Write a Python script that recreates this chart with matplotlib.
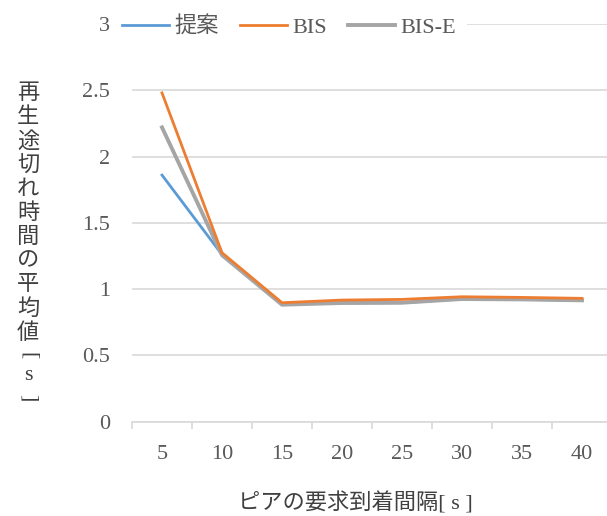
import matplotlib
matplotlib.use("Agg")
import matplotlib.pyplot as plt

# arrival interval of peer requests [s]
intervals = ["5", "10", "15", "20", "25", "30", "35", "40"]
proposed = [1.86, 1.26, 0.885, 0.895, 0.897, 0.925, 0.922, 0.915]
bis = [2.48, 1.274, 0.897, 0.917, 0.922, 0.942, 0.937, 0.930]
bis_e = [2.22, 1.256, 0.882, 0.895, 0.897, 0.925, 0.922, 0.915]

yticks = [0, 0.5, 1, 1.5, 2, 2.5, 3]
ylabel_chars = list("再生途切れ時間の平均値") + ["[", "s", "]"]
xlabel = "ピアの要求到着間隔[ s ]"

plt.rcParams['font.family'] = ['Liberation Serif', 'Noto Sans CJK JP']
W, H = 607, 516
fig = plt.figure(figsize=(W / 100, H / 100), dpi=100)
ax = fig.add_axes([132 / W, 1 - 421.6 / H, 480 / W, (421.6 - 24) / H])

x = list(range(1, len(intervals) + 1))
ax.plot(x, proposed, color='#5B9BD5', lw=2.0, label='提案', zorder=3,
        solid_joinstyle='round')
ax.plot(x, bis_e, color='#A5A5A5', lw=2.8, label='BIS-E', zorder=4,
        solid_joinstyle='round')
ax.plot(x, bis, color='#ED7D31', lw=2.0, label='BIS', zorder=5,
        solid_joinstyle='round')

ax.set_xlim(0.5, len(intervals) + 0.5)
ax.set_ylim(0, 3)
ax.set_yticks(yticks)
ax.set_yticklabels([f"{v:g}" for v in yticks])
ax.set_xticks(x)
ax.set_xticklabels(intervals)
ax.set_xticks([i + 0.5 for i in range(0, len(intervals) + 1)], minor=True)

ax.grid(axis='y', color='#D9D9D9', lw=1.2, zorder=0)
for s in ['top', 'right', 'left']:
    ax.spines[s].set_visible(False)
ax.spines['bottom'].set_color('#D9D9D9')
ax.spines['bottom'].set_linewidth(1.2)
ax.tick_params(axis='y', length=0, pad=16, labelsize=16, labelcolor='#595959')
ax.tick_params(axis='x', which='major', length=0, pad=17, labelsize=16,
               labelcolor='#595959')
ax.tick_params(axis='x', which='minor', length=5, width=1.2, color='#D9D9D9')

handles, labels = ax.get_legend_handles_labels()
order = [labels.index(n) for n in ['提案', 'BIS', 'BIS-E']]
fig.legend([handles[i] for i in order], [labels[i] for i in order],
           loc='center', bbox_to_anchor=(289 / W, 1 - 27 / H), ncol=3,
           frameon=True, facecolor='white', edgecolor='none', framealpha=1,
           fontsize=16, handlelength=2.1, handletextpad=0.25,
           columnspacing=0.95, borderpad=0.5, labelcolor='#595959',
           fancybox=False)

# vertical y-axis title, one character per row
y0, step = 94, 24
for i, ch in enumerate(ylabel_chars[:11]):
    fig.text(28 / W, 1 - (y0 + i * step) / H, ch, ha='center', va='center',
             fontsize=16, color='#404040')
for ch, yy, rot in zip(ylabel_chars[11:], [356, 376, 398], [-90, 0, -90]):
    fig.text(28 / W, 1 - yy / H, ch, ha='center', va='center', rotation=rot,
             fontsize=16, color='#404040')

fig.text(355 / W, 1 - 503 / H, xlabel, ha='center', va='center',
         fontsize=16, color='#404040')

fig.savefig("out.png", dpi=100)
